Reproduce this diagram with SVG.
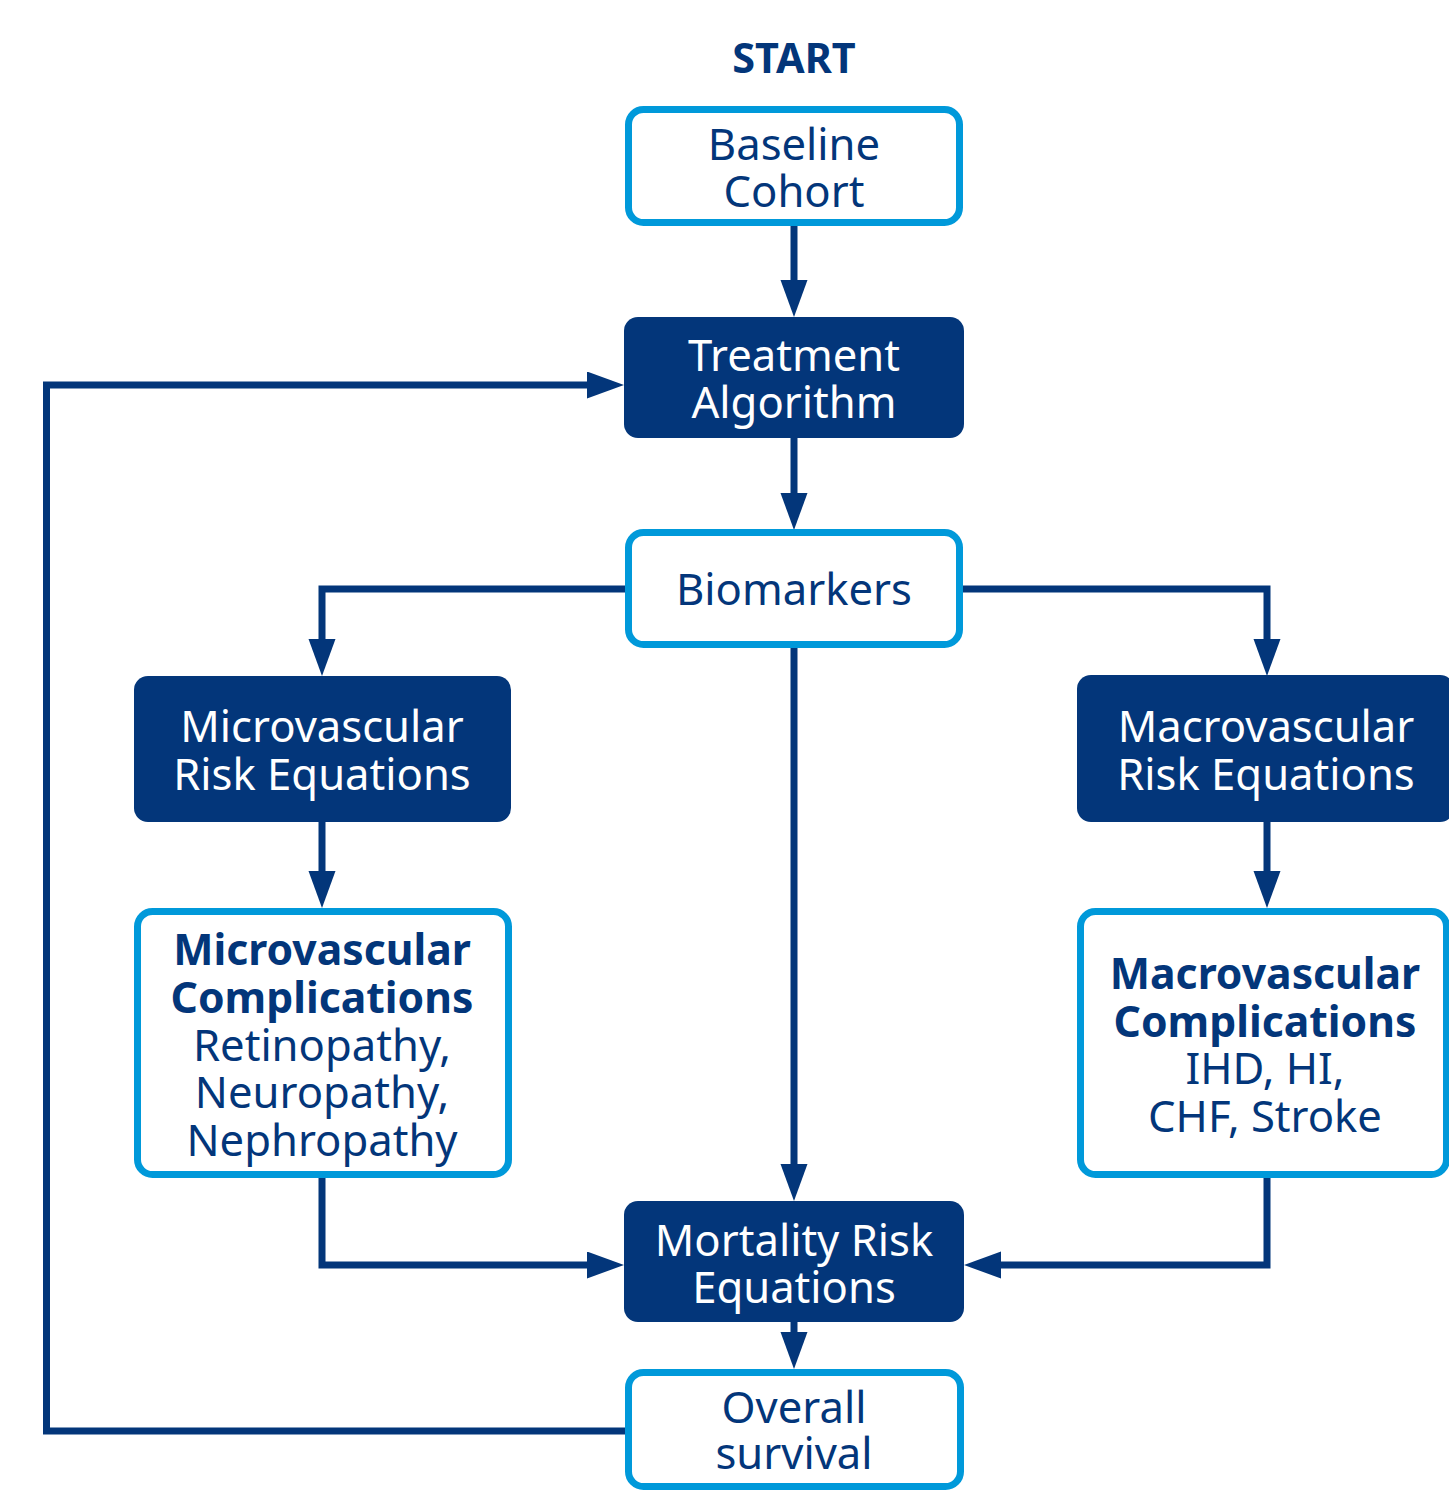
<svg xmlns="http://www.w3.org/2000/svg" width="1449" height="1491" viewBox="0 0 1449 1491">
<style>
.light{fill:#ffffff;stroke:#0099DA;stroke-width:7}
.dark{fill:#03367A}
.t{font-family:"Noto Sans","Open Sans","DejaVu Sans",sans-serif;font-size:43.6px;text-anchor:middle;fill:#03367A}
.w{fill:#ffffff}
.b{font-weight:bold;font-size:42.7px}
.c{fill:none;stroke:#03367A;stroke-width:7;stroke-linejoin:miter;stroke-linecap:butt}
</style>
<defs>
<marker id="ah" markerUnits="userSpaceOnUse" markerWidth="38" markerHeight="28" refX="1" refY="13.5" orient="auto">
<path d="M0,0 L37,13.5 L0,27 Z" fill="#03367A"/>
</marker>
</defs>
<rect width="1449" height="1491" fill="#ffffff"/>
<g id="connectors">
<path class="c" d="M794,226 V281" marker-end="url(#ah)"/>
<path class="c" d="M625,1431 H46.5 V385 H588" marker-end="url(#ah)"/>
<path class="c" d="M794,438 V494" marker-end="url(#ah)"/>
<path class="c" d="M627,589 H322 V640" marker-end="url(#ah)"/>
<path class="c" d="M962,589 H1267 V640" marker-end="url(#ah)"/>
<path class="c" d="M794,646 V1165" marker-end="url(#ah)"/>
<path class="c" d="M322,822 V872" marker-end="url(#ah)"/>
<path class="c" d="M1267,822 V872" marker-end="url(#ah)"/>
<path class="c" d="M322,1176 V1265 H588" marker-end="url(#ah)"/>
<path class="c" d="M1267,1176 V1265 H1000" marker-end="url(#ah)"/>
<path class="c" d="M794,1322 V1333" marker-end="url(#ah)"/>
</g>
<g id="start">
<text class="t b" x="794" y="73" style="font-size:41.4px">START</text>
</g>
<g id="baseline">
<rect class="light" x="628.5" y="109.5" width="331" height="113" rx="15"/>
<text class="t"><tspan x="794" y="160">Baseline</tspan><tspan x="794" y="207">Cohort</tspan></text>
</g>
<g id="treatment">
<rect class="dark" x="624" y="317" width="340" height="121" rx="14"/>
<text class="t w"><tspan x="794" y="371">Treatment</tspan><tspan x="794" y="418">Algorithm</tspan></text>
</g>
<g id="biomarkers">
<rect class="light" x="628.5" y="532.5" width="331" height="112" rx="15"/>
<text class="t" x="794" y="605">Biomarkers</text>
</g>
<g id="micro-risk">
<rect class="dark" x="134" y="676" width="377" height="146" rx="14"/>
<text class="t w"><tspan x="322" y="742">Microvascular</tspan><tspan x="322" y="790">Risk Equations</tspan></text>
</g>
<g id="macro-risk">
<rect class="dark" x="1077" y="675" width="377" height="147" rx="14"/>
<text class="t w"><tspan x="1266" y="742">Macrovascular</tspan><tspan x="1266" y="790">Risk Equations</tspan></text>
</g>
<g id="micro-comp">
<rect class="light" x="137.5" y="911.5" width="371" height="263" rx="15"/>
<text class="t"><tspan class="b" x="322" y="965">Microvascular</tspan><tspan class="b" x="322" y="1013">Complications</tspan><tspan x="322" y="1061">Retinopathy,</tspan><tspan x="322" y="1108">Neuropathy,</tspan><tspan x="322" y="1156">Nephropathy</tspan></text>
</g>
<g id="macro-comp">
<rect class="light" x="1080.5" y="911.5" width="366" height="263" rx="15"/>
<text class="t"><tspan class="b" x="1265" y="989">Macrovascular</tspan><tspan class="b" x="1265" y="1037">Complications</tspan><tspan x="1265" y="1084">IHD, HI,</tspan><tspan x="1265" y="1132">CHF, Stroke</tspan></text>
</g>
<g id="mortality">
<rect class="dark" x="624" y="1201" width="340" height="121" rx="14"/>
<text class="t w"><tspan x="794" y="1256">Mortality Risk</tspan><tspan x="794" y="1303">Equations</tspan></text>
</g>
<g id="overall">
<rect class="light" x="628.5" y="1372.5" width="332" height="114" rx="15"/>
<text class="t"><tspan x="794" y="1423">Overall</tspan><tspan x="794" y="1469">survival</tspan></text>
</g>
</svg>
